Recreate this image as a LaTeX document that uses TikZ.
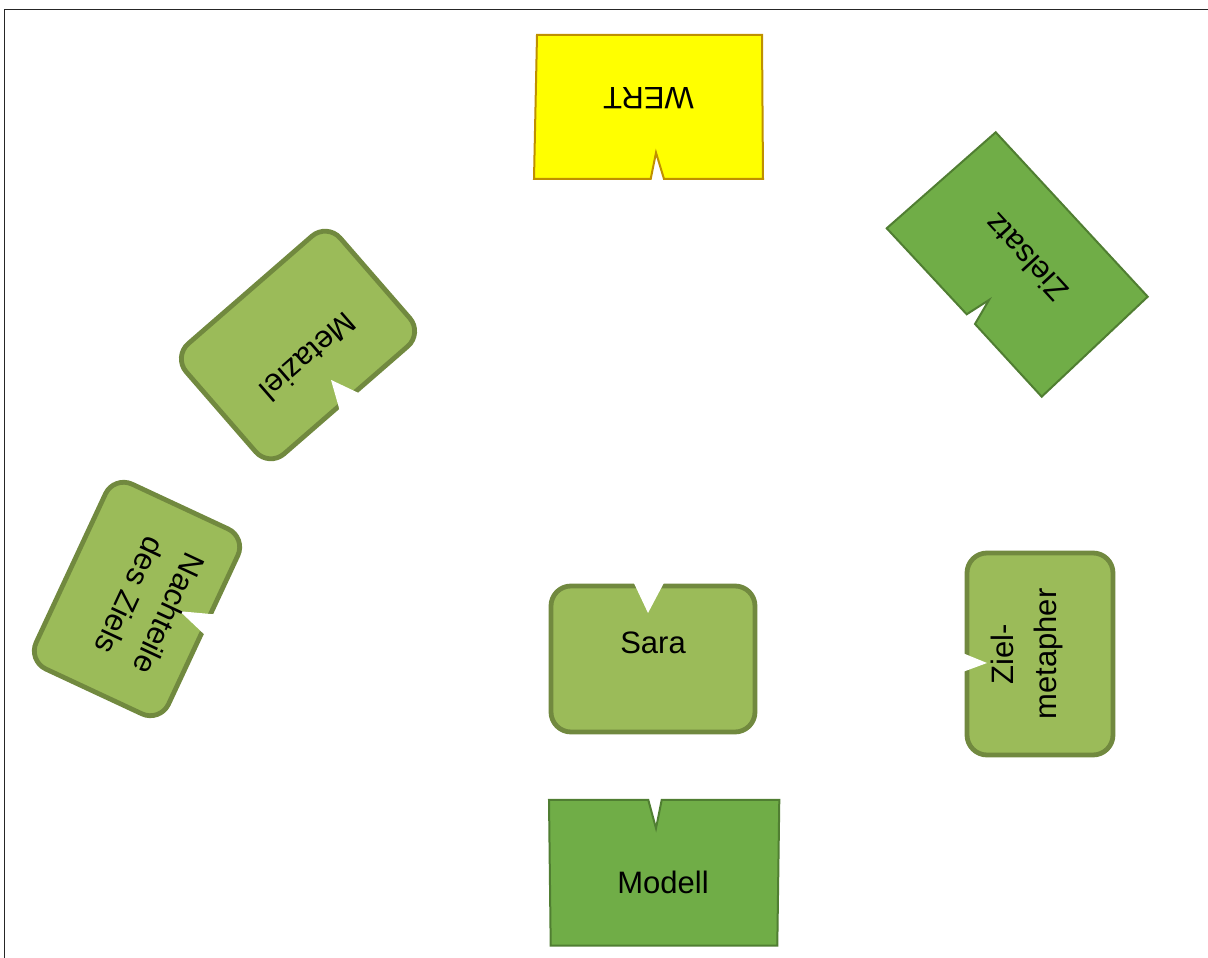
\documentclass[tikz,border=0pt]{standalone}
\usepackage{fontspec}
\setmainfont{Liberation Sans}
\definecolor{yfill}{HTML}{FFFF00}
\definecolor{yline}{HTML}{BF9000}
\definecolor{gfill}{HTML}{70AD47}
\definecolor{gline}{HTML}{507E32}
\definecolor{ofill}{HTML}{9BBB59}
\definecolor{oline}{HTML}{71893F}
\tikzset{
  txt/.style={font=\fontsize{31}{43}\selectfont, inner sep=0pt, align=center},
  yshape/.style={fill=yfill, draw=yline, line width=2pt, line join=miter},
  gshape/.style={fill=gfill, draw=gline, line width=2pt, line join=miter},
  rbox/.style={fill=ofill, draw=oline, line width=4.8pt, rounded corners=20pt},
  notchw/.style={fill=white, draw=none}
}
\begin{document}
\begin{tikzpicture}[x=1pt,y=1pt]
\useasboundingbox (0,0) rectangle (1208,958);
% frame
\draw[black!85, line width=1.3pt] (4.5,0) -- (4.5,948.5) -- (1208,948.5);

% WERT (yellow, rotated 180)
\draw[yshape] (537,923) -- (762,923) -- (763,779) -- (664,779) -- (656,805.3) -- (650.7,779) -- (534,779) -- cycle;
\node[txt, rotate=180] (wert) at (648.5,860) {WERT};

% Zielsatz
\draw[gshape] (995.7,825.7) -- (1147.7,661.3) -- (1041.7,561.3) -- (975,634) -- (989,658) -- (966.7,643.7) -- (886.7,729.7) -- cycle;
\node[txt, rotate=132.6] (zielsatz) at (1026,700) {Zielsatz};

% Metaziel
\begin{scope}[shift={(298,613)}, rotate=221]
  \draw[rbox] (-102,-73) rectangle (102,73);
  \fill[notchw] (-16,80) -- (13,80) -- (-2,48) -- cycle;
  \node[txt, rotate=221] (metaziel) at (0,16) {Metaziel};
\end{scope}

% Nachteile des Ziels
\begin{scope}[shift={(137,359)}, rotate=245]
  \draw[rbox] (-102,-73) rectangle (102,73);
  \fill[notchw] (-20,80) -- (5,80) -- (-7,44) -- cycle;
  \node[txt, rotate=245] (nachteile) at (0,14) {Nachteile\\des Ziels};
\end{scope}

% Sara
\begin{scope}[shift={(653,299)}]
  \draw[rbox] (-102,-73) rectangle (102,73);
  \fill[notchw] (-21,80) -- (13,80) -- (-5,46) -- cycle;
  \node[txt] (sara) at (0,16) {Sara};
\end{scope}

% Ziel-metapher
\begin{scope}[shift={(1040,304)}, rotate=90]
  \draw[rbox] (-101,-73) rectangle (101,73);
  \fill[notchw] (-19,80) -- (2,80) -- (-9,53) -- cycle;
  \node[txt, rotate=90] (zielmetapher) at (0,13) {Ziel-\\metapher};
\end{scope}

% Modell
\draw[gshape] (549,158) -- (648.3,158) -- (656,129.7) -- (661.7,158) -- (779.3,158) -- (777.3,12.3) -- (550.7,12.3) -- cycle;
\node[txt] (modell) at (663,76) {Modell};
\end{tikzpicture}
\end{document}
